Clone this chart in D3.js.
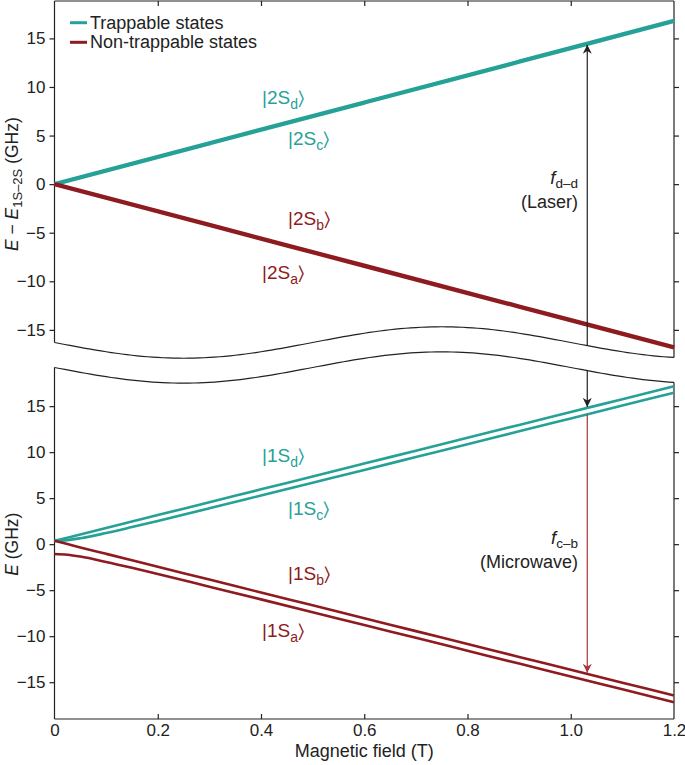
<!DOCTYPE html>
<html><head><meta charset="utf-8">
<script src="https://cdn.jsdelivr.net/npm/d3@7"></script>
<style>
body{margin:0;background:#fff;}
text{font-family:"Liberation Sans",Arial,sans-serif;}
</style></head>
<body><svg id="c" width="685" height="765"></svg>
<script>
// ---- data ----
const xTicks = [0, 0.2, 0.4, 0.6, 0.8, 1.0, 1.2];
const xTickLabels = ["0", "0.2", "0.4", "0.6", "0.8", "1.0", "1.2"];
const yTicks = [-15, -10, -5, 0, 5, 10, 15];
const yTickLabels = ["\u221215", "\u221210", "\u22125", "0", "5", "10", "15"];

// 2S states (upper panel), relative to E_1S-2S
const B2S = [0, 0.3, 0.6, 0.9, 1.2];
const E2Sd = [0.04, 4.24, 8.44, 12.64, 16.84];
const E2Sc = [-0.04, 4.16, 8.36, 12.56, 16.76];
const E2Sb = [0.04, -4.16, -8.36, -12.56, -16.76];
const E2Sa = [-0.04, -4.24, -8.44, -12.64, -16.84];

// 1S states (lower panel)
const B1S = [0, 0.025, 0.05, 0.1, 0.15, 0.2, 0.3, 0.4, 0.5, 0.6, 0.7, 0.8, 0.9, 1.0, 1.1, 1.2];
const E1Sd = [0.36, 0.71, 1.06, 1.76, 2.46, 3.16, 4.56, 5.96, 7.36, 8.76, 10.16, 11.56, 12.96, 14.36, 15.76, 17.16];
const E1Sc = [0.36, 0.44, 0.64, 1.21, 1.86, 2.53, 3.90, 5.29, 6.68, 8.07, 9.47, 10.87, 12.26, 13.66, 15.06, 16.46];
const E1Sb = [0.36, 0.01, -0.35, -1.05, -1.75, -2.45, -3.85, -5.25, -6.65, -8.05, -9.45, -10.85, -12.25, -13.65, -15.05, -16.45];
const E1Sa = [-1.07, -1.15, -1.35, -1.93, -2.57, -3.24, -4.62, -6.00, -7.39, -8.79, -10.18, -11.58, -12.98, -14.37, -15.77, -17.17];

// transitions
const laserB = 1.032;
const laserTop = 14.45;      // on |2S_d> in upper panel
const laserBottom = 14.81;   // on |1S_d> in lower panel
const mwB = 1.032;
const mwTop = 14.10;         // on |1S_c>
const mwBottom = -14.09;     // on |1S_b>

// break (wavy) lines in panel data units
const breakTopMid = -16.3, breakTopAmp = 1.62;
const breakBotMid = 19.2, breakBotAmp = 1.7;

const legendItems = ["Trappable states", "Non-trappable states"];

// ---- style ----
const TEAL = "#26a197", RED = "#8e1b20", ARROWRED = "#a8353a";
const FONT = "Liberation Sans, Arial, sans-serif";
const svg = d3.select("#c");

const x = d3.scaleLinear().domain([0, 1.2]).range([54.5, 674]);
const yT = d3.scaleLinear().domain([-16.3, 18.85]).range([342.5, 1]);
const yB = d3.scaleLinear().domain([-19.0, 19.2]).range([719, 367.5]);

const defs = svg.append("defs");
function marker(id, col){
  defs.append("marker").attr("id", id).attr("viewBox", "0 0 10 10")
    .attr("refX", 10).attr("refY", 5).attr("markerWidth", 9).attr("markerHeight", 11)
    .attr("markerUnits", "userSpaceOnUse").attr("orient", "auto")
    .append("path").attr("d", "M0,0 L10,5 L0,10 L3,5 Z").attr("fill", col);
}
marker("ak", "#222"); marker("ar", ARROWRED);

const wave = d3.range(0, 1.2001, 0.01);

// ---- frames ----
function breakLine(ys, mid, amp){
  return d3.line().x(b => x(b)).y(b => ys(mid + amp * Math.sin(2 * Math.PI * b)))(wave);
}
const fr = svg.append("g").attr("fill", "none").attr("stroke", "#222").attr("stroke-width", 1.2);
fr.append("path").attr("d", breakLine(yT, breakTopMid, -breakTopAmp));
fr.append("line").attr("x1", x(0)).attr("x2", x(1.2)).attr("y1", yT(18.85)).attr("y2", yT(18.85));
fr.append("line").attr("x1", x(0)).attr("x2", x(0)).attr("y1", yT(18.85)).attr("y2", yT(breakTopMid));
fr.append("line").attr("x1", x(1.2)).attr("x2", x(1.2)).attr("y1", yT(18.85)).attr("y2", yT(breakTopMid - breakTopAmp * Math.sin(2 * Math.PI * 1.2)));
fr.append("path").attr("d", breakLine(yB, breakBotMid, -breakBotAmp));
fr.append("line").attr("x1", x(0)).attr("x2", x(1.2)).attr("y1", yB(-19)).attr("y2", yB(-19));
fr.append("line").attr("x1", x(0)).attr("x2", x(0)).attr("y1", yB(-19)).attr("y2", yB(breakBotMid));
fr.append("line").attr("x1", x(1.2)).attr("x2", x(1.2)).attr("y1", yB(-19)).attr("y2", yB(breakBotMid - breakBotAmp * Math.sin(2 * Math.PI * 1.2)));

// ---- axes ----
function yAxisG(ys){
  const g = svg.append("g").attr("transform", `translate(${x(0)},0)`)
    .call(d3.axisLeft(ys).tickValues(yTicks).tickFormat((d, i) => yTickLabels[i]).tickSize(5).tickPadding(4));
  g.select(".domain").remove();
  g.selectAll("line").attr("stroke", "#222").attr("stroke-width", 1.2);
  g.selectAll("text").attr("font-size", 17).attr("fill", "#222").style("font-family", FONT);
  const r = svg.append("g").attr("transform", `translate(${x(1.2)},0)`)
    .call(d3.axisLeft(ys).tickValues(yTicks).tickFormat("").tickSize(-5));
  r.select(".domain").remove();
  r.selectAll("line").attr("stroke", "#222").attr("stroke-width", 1.2);
}
yAxisG(yT); yAxisG(yB);

const xb = svg.append("g").attr("transform", `translate(0,${yB(-19)})`)
  .call(d3.axisBottom(x).tickValues(xTicks).tickFormat((d, i) => xTickLabels[i]).tickSize(-5).tickPadding(5));
xb.select(".domain").remove();
xb.selectAll("line").attr("stroke", "#222").attr("stroke-width", 1.2);
xb.selectAll("text").attr("font-size", 17).attr("fill", "#222").style("font-family", FONT);
xb.selectAll(".tick").filter(d => d === 0 || d === 1.2).select("line").remove();

const xt = svg.append("g").attr("transform", `translate(0,${yT(18.85)})`)
  .call(d3.axisTop(x).tickValues(xTicks).tickFormat("").tickSize(-5));
xt.select(".domain").remove();
xt.selectAll("line").attr("stroke", "#222").attr("stroke-width", 1.2);
xt.selectAll(".tick").filter(d => d === 0 || d === 1.2).select("line").remove();

// ---- curves ----
function curve(ys, bs, es, col, w){
  svg.append("path").attr("d", d3.line().x((d, i) => x(bs[i])).y(d => ys(d)).curve(d3.curveMonotoneX)(es))
    .attr("fill", "none").attr("stroke", col).attr("stroke-width", w).attr("stroke-linecap", "butt");
}
curve(yT, B2S, E2Sd, TEAL, 3.6); curve(yT, B2S, E2Sc, TEAL, 3.6);
curve(yT, B2S, E2Sb, RED, 3.6); curve(yT, B2S, E2Sa, RED, 3.6);
curve(yB, B1S, E1Sd, TEAL, 2.6); curve(yB, B1S, E1Sc, TEAL, 2.6);
curve(yB, B1S, E1Sb, RED, 2.6); curve(yB, B1S, E1Sa, RED, 2.6);

// ---- arrows ----
svg.append("line").attr("x1", x(laserB)).attr("x2", x(laserB))
  .attr("y1", yT(breakTopMid - breakTopAmp * Math.sin(2 * Math.PI * laserB))).attr("y2", yT(laserTop) + 1)
  .attr("stroke", "#222").attr("stroke-width", 1.2).attr("marker-end", "url(#ak)");
svg.append("line").attr("x1", x(laserB)).attr("x2", x(laserB))
  .attr("y1", yB(breakBotMid - breakBotAmp * Math.sin(2 * Math.PI * laserB))).attr("y2", yB(laserBottom) - 1)
  .attr("stroke", "#222").attr("stroke-width", 1.2).attr("marker-end", "url(#ak)");
svg.append("line").attr("x1", x(mwB)).attr("x2", x(mwB))
  .attr("y1", yB(mwTop)).attr("y2", yB(mwBottom) - 1)
  .attr("stroke", ARROWRED).attr("stroke-width", 1.2).attr("marker-end", "url(#ar)");

// ---- labels ----
function ket(xp, yp, num, sub, col){
  const t = svg.append("text").attr("x", xp).attr("y", yp).attr("fill", col).attr("font-size", 19);
  t.append("tspan").text("|" + num + "S");
  t.append("tspan").attr("dy", 5).attr("font-size", 14).text(sub);
  t.append("tspan").attr("dy", -5).style("font-family", "DejaVu Sans").attr("font-size", 19).text("\u232A");
}
ket(262, 104, "2", "d", TEAL);
ket(288, 145, "2", "c", TEAL);
ket(288, 225, "2", "b", RED);
ket(262, 279, "2", "a", RED);
ket(262, 462, "1", "d", TEAL);
ket(288, 515, "1", "c", TEAL);
ket(288, 580, "1", "b", RED);
ket(262, 637, "1", "a", RED);

function fLabel(yp, sub, line2){
  const t = svg.append("text").attr("x", 578).attr("y", yp).attr("text-anchor", "end").attr("fill", "#222").attr("font-size", 18.5);
  t.append("tspan").attr("font-style", "italic").text("f");
  t.append("tspan").attr("dy", 3.5).attr("font-size", 13.5).text(sub);
  svg.append("text").attr("x", 578).attr("y", yp + 24).attr("text-anchor", "end").attr("fill", "#222").attr("font-size", 18).text(line2);
}
fLabel(184, "d\u2013d", "(Laser)");
fLabel(544, "c\u2013b", "(Microwave)");

// y labels
const yl1 = svg.append("text").attr("transform", `translate(18,${yT(0)}) rotate(-90)`).attr("text-anchor", "middle").attr("font-size", 17.5).attr("fill", "#222");
yl1.append("tspan").attr("font-style", "italic").text("E");
yl1.append("tspan").text(" \u2212 ");
yl1.append("tspan").attr("font-style", "italic").text("E");
yl1.append("tspan").attr("dy", 4).attr("font-size", 13).text("1S\u20132S");
yl1.append("tspan").attr("dy", -4).text(" (GHz)");
const yl2 = svg.append("text").attr("transform", `translate(18,${yB(0)}) rotate(-90)`).attr("text-anchor", "middle").attr("font-size", 17.5).attr("fill", "#222");
yl2.append("tspan").attr("font-style", "italic").text("E");
yl2.append("tspan").text(" (GHz)");

svg.append("text").attr("x", x(0.6)).attr("y", 757).attr("text-anchor", "middle").attr("font-size", 18).attr("fill", "#222").text("Magnetic field (T)");

// legend
const lg = svg.append("g");
legendItems.forEach((s, i) => {
  const yy = 22.7 + i * 19.6;
  lg.append("line").attr("x1", 70).attr("x2", 87).attr("y1", yy).attr("y2", yy).attr("stroke", i === 0 ? TEAL : RED).attr("stroke-width", 3);
  lg.append("text").attr("x", 90).attr("y", yy + 6).attr("font-size", 18).attr("fill", "#222").text(s);
});
</script></body></html>
